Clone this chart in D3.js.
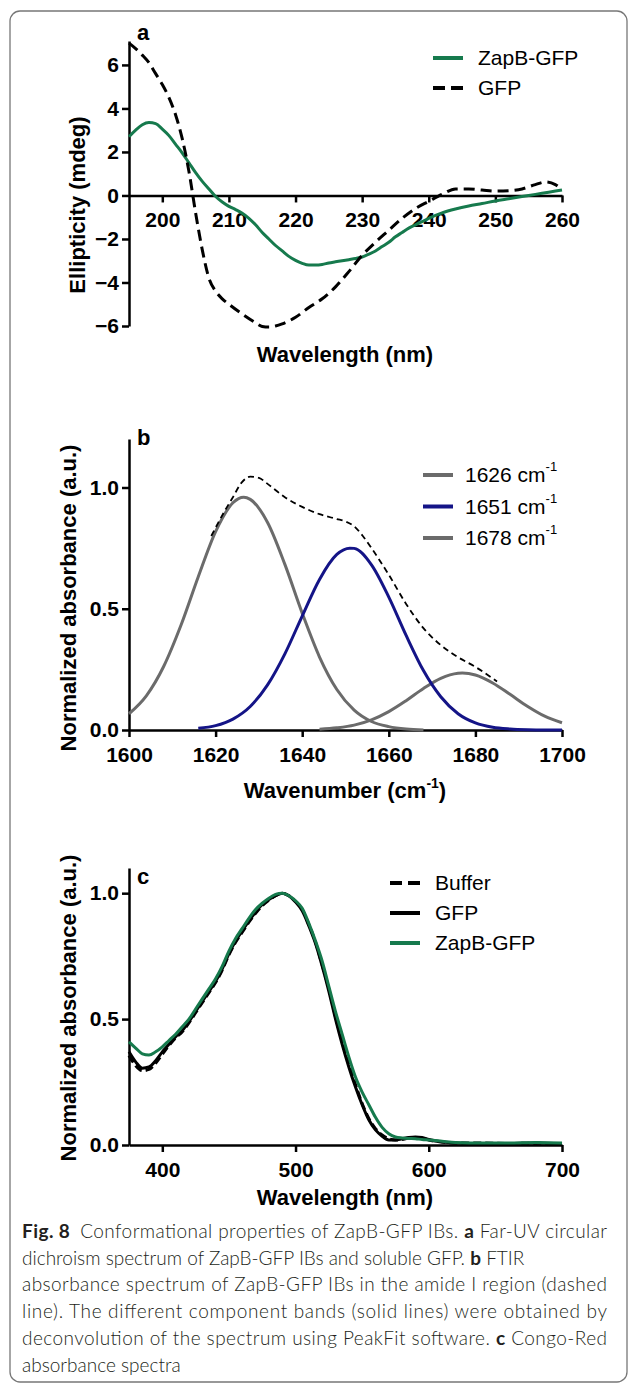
<!DOCTYPE html>
<html>
<head>
<meta charset="utf-8">
<script src="https://cdnjs.cloudflare.com/ajax/libs/d3/7.8.5/d3.min.js"></script>
<style>
body { margin: 0; background: #fff; }
svg { display: block; }
.axis path, .axis line { stroke: #000; stroke-width: 2.5; }
.axis text { font-family: "Liberation Sans", Arial, sans-serif; font-weight: bold; font-size: 21px; fill: #000; }
.title { font-family: "Liberation Sans", Arial, sans-serif; font-weight: bold; font-size: 22px; }
.legend { font-family: "Liberation Sans", Arial, sans-serif; font-size: 21px; }
.caption { font-family: Lato, "Open Sans", sans-serif; font-size: 19px; font-weight: 300; fill: #231f20; }
</style>
</head>
<body>
<div id="fig"></div>
<script>
// ---- panel a: far-UV CD (wavelength nm, mdeg)
var cdTicksX = [200, 210, 220, 230, 240, 250, 260];
var cdTicksY = [-6, -4, -2, 0, 2, 4, 6];
var cdZapB = [[195,2.7],[196,3.0],[197,3.25],[198,3.35],[199,3.3],[200,3.05],[201,2.75],[202,2.35],[203,1.95],[204,1.5],
  [205,1.05],[206,0.65],[207,0.3],[208,-0.05],[209,-0.3],[210,-0.5],[211,-0.65],[212,-0.82],[213,-1.05],[214,-1.35],
  [215,-1.7],[216,-2.0],[217,-2.3],[218,-2.55],[219,-2.8],[220,-2.98],[221,-3.12],[222,-3.2],[223,-3.2],[224,-3.17],
  [225,-3.1],[226,-3.05],[227,-3.0],[228,-2.95],[229,-2.9],[230,-2.83],[231,-2.7],[232,-2.55],[233,-2.35],[234,-2.15],
  [235,-1.9],[236,-1.7],[237,-1.5],[238,-1.35],[239,-1.2],[240,-1.05],[242,-0.8],[244,-0.62],[246,-0.48],[248,-0.37],
  [250,-0.25],[252,-0.15],[254,-0.05],[256,0.05],[258,0.15],[260,0.25]];
var cdGFP = [[195,7.0],[196,6.75],[197,6.45],[198,6.1],[199,5.6],[200,5.1],[201,4.5],[202,3.7],[203,2.6],[204,1.1],
  [205,-0.8],[206,-2.5],[207,-3.8],[208,-4.4],[209,-4.75],[210,-5.0],[212,-5.45],[214,-5.85],[215,-6.02],[216,-6.05],
  [217,-6.0],[218,-5.9],[220,-5.6],[222,-5.15],[224,-4.75],[226,-4.2],[228,-3.5],[230,-2.75],[232,-2.15],[234,-1.6],
  [236,-1.05],[238,-0.6],[240,-0.27],[242,0.05],[244,0.3],[246,0.3],[248,0.25],[250,0.2],[252,0.22],[254,0.3],
  [256,0.5],[257.5,0.62],[259,0.5],[260,0.25]];

// ---- panel b: FTIR amide I (wavenumber, normalized absorbance)
var irTicksX = [1600, 1620, 1640, 1660, 1680, 1700];
var irTicksY = [0, 0.5, 1.0];
var ir1626 = [[1600,0.067],[1604,0.141],[1608,0.262],[1612,0.432],[1616,0.632],[1620,0.818],[1624,0.937],[1626.5,0.96],
  [1628,0.951],[1632,0.856],[1636,0.683],[1640,0.482],[1644,0.301],[1648,0.167],[1652,0.082],[1656,0.035],[1660,0.014],
  [1664,0.004],[1668,0.0]];
var ir1651 = [[1616,0.007],[1620,0.018],[1624,0.045],[1628,0.097],[1632,0.186],[1636,0.314],[1640,0.47],[1644,0.621],
  [1648,0.724],[1651,0.75],[1652,0.749],[1656,0.681],[1660,0.548],[1664,0.39],[1668,0.245],[1672,0.137],[1676,0.067],
  [1680,0.029],[1684,0.011],[1688,0.004],[1692,0.001],[1696,0.0],[1700,0.0]];
var ir1678 = [[1644,0.003],[1648,0.009],[1652,0.02],[1656,0.042],[1660,0.076],[1664,0.121],[1668,0.171],[1672,0.213],
  [1676,0.234],[1677,0.235],[1680,0.227],[1684,0.194],[1688,0.147],[1692,0.098],[1696,0.057],[1700,0.03]];
var irSum = [[1619,0.8],[1622,0.9],[1624,0.96],[1626,1.02],[1628,1.045],[1630,1.04],[1632,1.015],[1636,0.96],[1640,0.92],
  [1644,0.89],[1648,0.87],[1650,0.86],[1652,0.84],[1654,0.8],[1656,0.75],[1660,0.64],[1664,0.52],[1668,0.42],
  [1672,0.35],[1676,0.3],[1680,0.26],[1685,0.2]];
var irLabels = ["1626", "1651", "1678"];

// ---- panel c: Congo-Red absorbance (wavelength nm)
var crTicksX = [400, 500, 600, 700];
var crTicksY = [0, 0.5, 1.0];
var crWl = [375,380,385,390,395,400,405,410,415,420,425,430,435,440,445,450,455,460,465,470,475,480,485,490,495,500,
  505,510,515,520,525,530,535,540,545,550,555,560,565,570,575,580,585,590,595,600,610,620,640,660,680,700];
var crBuffer = [.355,.315,.295,.30,.325,.36,.395,.425,.45,.485,.525,.565,.605,.645,.695,.755,.805,.845,.885,.92,.95,.972,
  .99,1.0,.99,.968,.935,.875,.805,.715,.62,.51,.41,.32,.24,.165,.105,.065,.04,.025,.02,.022,.028,.03,.028,.02,.012,.008,
  .008,.006,.007,.004];
var crGFP = [.37,.33,.305,.31,.335,.37,.40,.43,.455,.49,.53,.57,.61,.65,.70,.76,.81,.85,.89,.925,.955,.975,
  .99,1.0,.99,.965,.93,.87,.80,.71,.61,.50,.40,.31,.23,.16,.10,.06,.035,.02,.02,.025,.03,.032,.03,.022,.012,.008,
  .006,.006,.008,.005];
var crZapB = [.41,.385,.362,.357,.37,.39,.415,.44,.47,.50,.54,.58,.62,.66,.71,.77,.82,.86,.90,.935,.96,.98,
  .995,1.0,.99,.97,.94,.88,.81,.73,.63,.53,.44,.35,.27,.21,.16,.11,.07,.045,.032,.028,.026,.025,.022,.02,.015,.01,
  .008,.008,.01,.008];

var green = "#167a4d", navy = "#141487", grey = "#6b6b6b";

var svg = d3.select("#fig").append("svg").attr("width", 629).attr("height", 1385);

// frame
svg.append("rect").attr("x", 10).attr("y", 11).attr("width", 617).attr("height", 1371)
  .attr("rx", 10).attr("fill", "none").attr("stroke", "#777").attr("stroke-width", 1.3);

function panel(o) {
  var x = d3.scaleLinear().domain(o.xDomain).range([129, 562]);
  var y = d3.scaleLinear().domain(o.yDomain).range(o.yRange);
  var g = svg.append("g");

  g.append("g").attr("class", "axis")
    .attr("transform", "translate(0," + y(0) + ")")
    .call(d3.axisBottom(x).tickValues(o.xTicks).tickSize(7).tickSizeOuter(0).tickPadding(10).tickFormat(d3.format("d")));
  g.append("g").attr("class", "axis")
    .attr("transform", "translate(129,0)")
    .call(d3.axisLeft(y).tickValues(o.yTicks).tickSize(7).tickSizeOuter(0).tickPadding(3).tickFormat(o.yFormat));

  var line = d3.line().curve(d3.curveMonotoneX)
    .x(function(d) { return x(d[0]); })
    .y(function(d) { return y(d[1]); });

  o.series.forEach(function(s) {
    g.append("path").datum(s.data)
      .attr("d", line)
      .attr("fill", "none")
      .attr("stroke", s.color)
      .attr("stroke-width", s.width)
      .attr("stroke-dasharray", s.dash || null);
  });

  g.append("text").attr("class", "title").attr("x", 137).attr("y", o.letterY).text(o.letter);

  var xt = g.append("text").attr("class", "title").attr("x", 345).attr("y", o.xTitleY)
    .attr("text-anchor", "middle").text(o.xTitle);
  if (o.xSup) {
    xt.append("tspan").attr("font-size", 14).attr("dy", -10).text("-1");
    xt.append("tspan").attr("dy", 10).text(")");
  }
  g.append("text").attr("class", "title")
    .attr("transform", "translate(" + o.yTitleX + "," + o.yTitleMid + ") rotate(-90)")
    .attr("text-anchor", "middle").text(o.yTitle);

  // legend
  o.legend.forEach(function(s, i) {
    var ly = o.legendY + i * o.legendStep;
    g.append("line").attr("x1", o.legendX).attr("x2", o.legendX + 30).attr("y1", ly).attr("y2", ly)
      .attr("stroke", s.color).attr("stroke-width", 4).attr("stroke-dasharray", s.dash ? "12,6" : null);
    var t = g.append("text").attr("class", "legend").attr("x", o.legendX + o.legendGap).attr("y", ly + 7).text(s.name);
    if (s.sup) t.append("tspan").attr("font-size", 13).attr("dy", -11).text("-1");
  });
}

panel({
  xDomain: [195, 260], yDomain: [-6, 7.1], yRange: [326, 41],
  xTicks: cdTicksX, yTicks: cdTicksY, yFormat: d3.format("d"),
  series: [
    {data: cdZapB, color: green, width: 3},
    {data: cdGFP, color: "#000", width: 3, dash: "11,6"}
  ],
  letter: "a", letterY: 40,
  xTitle: "Wavelength (nm)", xTitleY: 362,
  yTitle: "Ellipticity (mdeg)", yTitleX: 85, yTitleMid: 205,
  legend: [{name: "ZapB-GFP", color: green}, {name: "GFP", color: "#000", dash: true}],
  legendX: 433, legendGap: 45, legendY: 58, legendStep: 30
});

panel({
  xDomain: [1600, 1700], yDomain: [0, 1.2], yRange: [730, 439],
  xTicks: irTicksX, yTicks: irTicksY, yFormat: d3.format(".1f"),
  series: [
    {data: ir1626, color: grey, width: 3},
    {data: ir1678, color: grey, width: 3},
    {data: ir1651, color: navy, width: 3},
    {data: irSum, color: "#000", width: 1.8, dash: "6,4"}
  ],
  letter: "b", letterY: 445,
  xTitle: "Wavenumber (cm", xSup: true, xTitleY: 798,
  yTitle: "Normalized absorbance (a.u.)", yTitleX: 76, yTitleMid: 598,
  legend: irLabels.map(function(l, i) { return {name: l + " cm", sup: true, color: i === 1 ? navy : grey}; }),
  legendX: 423, legendGap: 42, legendY: 475, legendStep: 31.5
});

function pairs(v) { return crWl.map(function(w, i) { return [w, v[i]]; }); }

panel({
  xDomain: [375, 700], yDomain: [0, 1.1], yRange: [1145, 868],
  xTicks: crTicksX, yTicks: crTicksY, yFormat: d3.format(".1f"),
  series: [
    {data: pairs(crBuffer), color: "#000", width: 3, dash: "8,4"},
    {data: pairs(crGFP), color: "#000", width: 3},
    {data: pairs(crZapB), color: green, width: 3}
  ],
  letter: "c", letterY: 884,
  xTitle: "Wavelength (nm)", xTitleY: 1205,
  yTitle: "Normalized absorbance (a.u.)", yTitleX: 76, yTitleMid: 1008,
  legend: [{name: "Buffer", color: "#000", dash: true}, {name: "GFP", color: "#000"}, {name: "ZapB-GFP", color: green}],
  legendX: 390, legendGap: 45, legendY: 883, legendStep: 30
});

// caption
var capLines = [
  [["Fig. 8", true], ["\u2002Conformational properties of ZapB-GFP IBs. ", false], ["a", true], [" Far-UV circular", false]],
  [["dichroism spectrum of ZapB-GFP IBs and soluble GFP. ", false], ["b", true], [" FTIR", false]],
  [["absorbance spectrum of ZapB-GFP IBs in the amide I region (dashed", false]],
  [["line). The different component bands (solid lines) were obtained by", false]],
  [["deconvolution of the spectrum using PeakFit software. ", false], ["c", true], [" Congo-Red", false]],
  [["absorbance spectra", false]]
];
var justified = [true, false, true, true, true, false];
capLines.forEach(function(parts, i) {
  var t = svg.append("text").attr("class", "caption").attr("x", 22).attr("y", 1238 + i * 26.7)
    .attr("xml:space", "preserve");
  if (justified[i]) t.attr("textLength", 585).attr("lengthAdjust", "spacing");
  parts.forEach(function(p) {
    t.append("tspan").attr("font-weight", p[1] ? "bold" : null).text(p[0]);
  });
});
</script>
</body>
</html>
